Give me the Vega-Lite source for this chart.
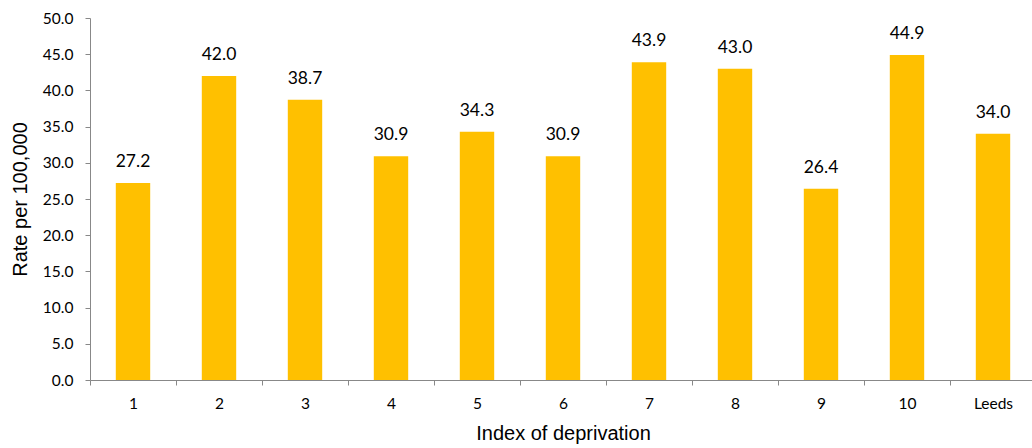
{
  "$schema": "https://vega.github.io/schema/vega-lite/v6.json",
  "width": 946,
  "height": 362,
  "autosize": {"type": "none"},
  "padding": {"left": 90, "top": 18, "right": 0, "bottom": 68},
  "background": "white",
  "config": {"view": {"stroke": null}},
  "data": {"values": [
    {"band": "1", "rate": 27.2},
    {"band": "2", "rate": 42.0},
    {"band": "3", "rate": 38.7},
    {"band": "4", "rate": 30.9},
    {"band": "5", "rate": 34.3},
    {"band": "6", "rate": 30.9},
    {"band": "7", "rate": 43.9},
    {"band": "8", "rate": 43.0},
    {"band": "9", "rate": 26.4},
    {"band": "10", "rate": 44.9},
    {"band": "Leeds", "rate": 34.0}
  ]},
  "encoding": {
    "x": {
      "field": "band", "type": "nominal", "sort": null,
      "scale": {"paddingInner": 0, "paddingOuter": 0},
      "axis": {
        "title": "Index of deprivation", "labelAngle": 0,
        "tickBand": "extent", "domainColor": "#888888", "tickColor": "#888888",
        "tickSize": 5, "labelFont": "Lato", "labelFontSize": 15.5, "labelColor": "#000000",
        "labelPadding": 11, "titleFont": "Liberation Sans", "titleFontSize": 20,
        "titleFontWeight": "normal", "titleColor": "#000000", "titlePadding": 12, "grid": false
      }
    },
    "y": {
      "field": "rate", "type": "quantitative",
      "scale": {"domain": [0, 50]},
      "axis": {
        "title": "Rate per 100,000", "values": [0,5,10,15,20,25,30,35,40,45,50],
        "format": ".1f", "domainColor": "#888888", "tickColor": "#888888", "tickSize": 5,
        "labelFont": "Lato", "labelFontSize": 15.5, "labelColor": "#000000", "labelPadding": 12,
        "titleFont": "Liberation Sans", "titleFontSize": 20, "titleFontWeight": "normal",
        "titleColor": "#000000", "titlePadding": 12, "grid": false
      }
    }
  },
  "layer": [
    {"mark": {"type": "bar", "color": "#FFC000", "width": {"band": 0.4}}},
    {
      "mark": {"type": "text", "baseline": "bottom", "dy": -12, "font": "Lato", "fontSize": 17.5, "color": "#000000"},
      "encoding": {"text": {"field": "rate", "type": "quantitative", "format": ".1f"}}
    }
  ]
}
